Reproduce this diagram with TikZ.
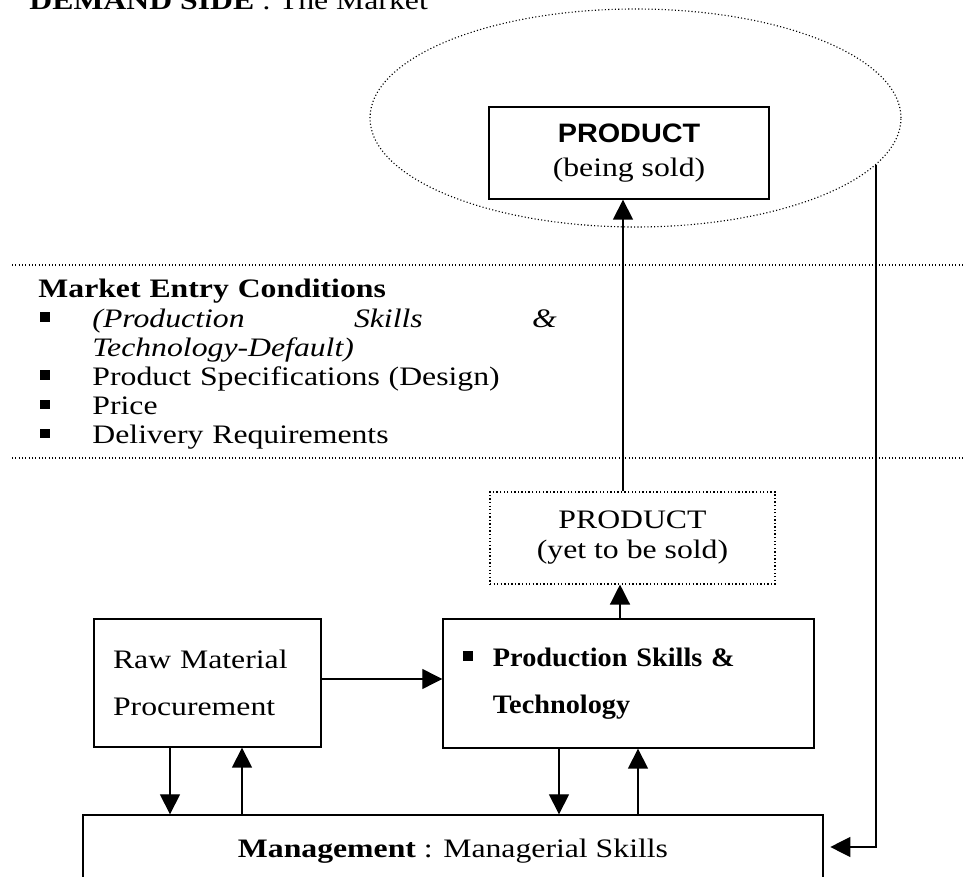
\documentclass[tikz,border=0pt]{standalone}
\usepackage{fontspec}
\setmainfont{Liberation Serif}[FakeStretch=1.19]
\newfontfamily\sansbf{Liberation Sans}[FakeStretch=1.08]
\newfontfamily\prodfont{Liberation Serif}[FakeStretch=1.06]
\usetikzlibrary{arrows.meta,shapes.geometric}
\newcommand{\sqbullet}{\rule[2.5pt]{4.5pt}{4.2pt}}

\begin{document}
\begin{tikzpicture}[x=0.45pt,y=-0.45pt,
    font=\fontsize{12}{13.1}\selectfont,
    box/.style={draw,line width=0.6pt,inner sep=0pt},
    arr/.style={line width=0.6pt,-{Triangle[length=9pt,width=9pt]}},
    sep/.style={densely dotted,line width=0.5pt}]
\useasboundingbox (0,0) rectangle (964,877);

% demand side
\node[anchor=base west,inner sep=0pt] (demand) at (29,10) {\textbf{DEMAND SIDE} : The Market};
\node[ellipse,draw,sep,inner sep=0pt,minimum width=238.95pt,minimum height=98.1pt] (market) at (635.5,118) {};
\node[box,minimum width=126pt,minimum height=41.4pt,align=center] (sold) at (629,153)
    {{\sansbf\bfseries PRODUCT}\\[1.85pt](being sold)};

% market entry band
\draw[sep] (12,265) -- (964,265);
\draw[sep] (12,458) -- (964,458);
\node[anchor=base west,inner sep=0pt,text width=240pt,align=left] (entry) at (38,298)
    {\textbf{Market Entry Conditions}\\
     \hspace*{0.9pt}\sqbullet\hspace*{18.9pt}\hbox to 209pt{\itshape (Production\hfill Skills\hfill\&}\\
     \hspace*{24.3pt}\textit{Technology-Default)}\\
     \hspace*{0.9pt}\sqbullet\hspace*{18.9pt}Product Specifications (Design)\\
     \hspace*{0.9pt}\sqbullet\hspace*{18.9pt}Price\\
     \hspace*{0.9pt}\sqbullet\hspace*{18.9pt}Delivery Requirements};

% supply side
\node[box,sep,minimum width=128.25pt,minimum height=41.4pt,align=center,
    font=\fontsize{12}{13.5}\selectfont] (yet) at (632.5,538) {PRODUCT\\(yet to be sold)};
\node[box,minimum width=102.15pt,minimum height=57.6pt,inner xsep=8.55pt,text width=85pt,
    align=left,font=\fontsize{12}{21.15}\selectfont] (raw) at (207.5,683) {Raw Material\\Procurement};
\node[box,minimum width=166.95pt,minimum height=58.05pt,inner xsep=9pt,text width=149pt,
    align=left,font=\fontsize{12}{21.15}\selectfont\prodfont] (prod) at (628.5,683.5)
    {\sqbullet\hspace*{9pt}\textbf{Production Skills \&}\\\hspace*{13.5pt}\textbf{Technology}};
\node[box,minimum width=333pt,minimum height=28.8pt,text height=12.5pt,text depth=2.6pt] (mgmt) at (453,847)
    {\textbf{Management} : Managerial Skills};

% arrows
\draw[arr] (raw.east |- 0,679) -- (prod.west |- 0,679);
\draw[arr] (prod.north -| 620,0) -- (yet.south -| 620,0);
\draw[arr] (yet.north -| 623,0) -- (sold.south -| 623,0);
\draw[arr] (raw.south -| 170,0) -- (mgmt.north -| 170,0);
\draw[arr] (mgmt.north -| 242,0) -- (raw.south -| 242,0);
\draw[arr] (prod.south -| 559,0) -- (mgmt.north -| 559,0);
\draw[arr] (mgmt.north -| 638,0) -- (prod.south -| 638,0);
\draw[arr,shorten >=3pt] (market.-11.4) |- (mgmt.east);
\end{tikzpicture}
\end{document}
